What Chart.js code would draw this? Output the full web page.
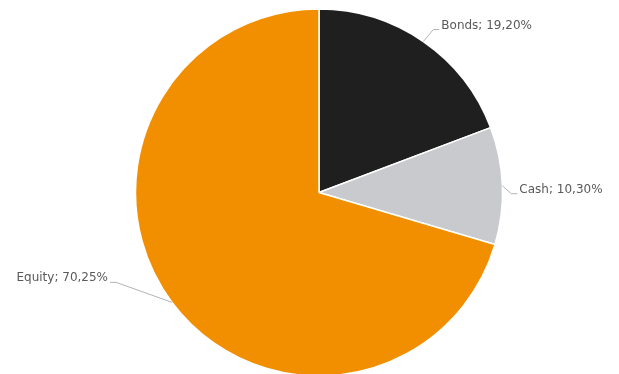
<!DOCTYPE html>
<html>
<head>
<meta charset="utf-8">
<script src="https://cdn.jsdelivr.net/npm/chart.js@4/dist/chart.umd.min.js"></script>
<style>
html,body{margin:0;padding:0;background:#fff;}
#wrap{width:619px;height:374px;position:relative;}
</style>
</head>
<body>
<div id="wrap"><canvas id="c" width="619" height="374"></canvas></div>
<script>
const categories = ["Bonds", "Cash", "Equity"];
const values = [19.20, 10.30, 70.25];
const valueLabels = ["19,20%", "10,30%", "70,25%"];
const colors = ["#1f1f1f", "#c9cacd", "#f28f00"];

// leader-line elbow offsets relative to slice mid-edge, and label side
const leaderOffsets = [[10, -12], [9, 8], [-56, -20]];
const leaderSides = [1, 1, -1];

const leaderPlugin = {
  id: 'leaders',
  afterDatasetsDraw(chart) {
    const ctx = chart.ctx;
    const meta = chart.getDatasetMeta(0);
    ctx.save();
    ctx.font = '12px "DejaVu Sans", sans-serif';
    meta.data.forEach((arc, i) => {
      const p = arc.getProps(['x', 'y', 'startAngle', 'endAngle', 'outerRadius'], true);
      const mid = (p.startAngle + p.endAngle) / 2;
      const ax = p.x + Math.cos(mid) * p.outerRadius;
      const ay = p.y + Math.sin(mid) * p.outerRadius;
      const ex = ax + leaderOffsets[i][0];
      const ey = ay + leaderOffsets[i][1];
      const side = leaderSides[i];
      const hx = ex + side * 6;
      ctx.strokeStyle = '#b3b3b3';
      ctx.lineWidth = 1;
      ctx.beginPath();
      ctx.moveTo(ax, ay);
      ctx.lineTo(ex, ey);
      ctx.lineTo(hx, ey);
      ctx.stroke();
      ctx.fillStyle = '#595959';
      ctx.textBaseline = 'middle';
      ctx.textAlign = side > 0 ? 'left' : 'right';
      ctx.fillText(categories[i] + '; ' + valueLabels[i], hx + side * 2, ey - 4);
    });
    ctx.restore();
  }
};

new Chart(document.getElementById('c'), {
  type: 'pie',
  data: {
    labels: categories,
    datasets: [{
      data: values,
      backgroundColor: colors,
      borderColor: '#ffffff',
      borderWidth: 1.5,
      hoverOffset: 0,
      offset: 0
    }]
  },
  options: {
    responsive: false,
    animation: false,
    events: [],
    radius: 183.5,
    layout: { padding: { left: 19, right: 0, top: 11, bottom: 0 } },
    plugins: {
      legend: { display: false },
      tooltip: { enabled: false }
    }
  },
  plugins: [leaderPlugin]
});
</script>
</body>
</html>
